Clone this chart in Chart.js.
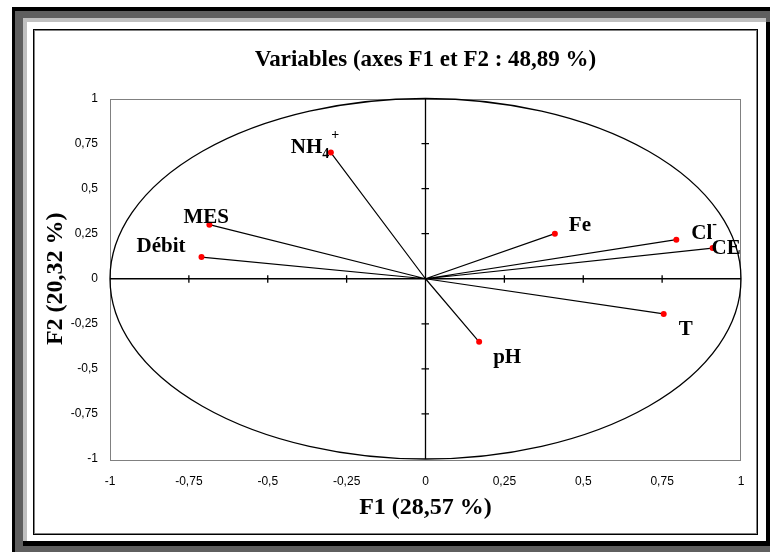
<!DOCTYPE html>
<html><head><meta charset="utf-8">
<script src="https://cdn.jsdelivr.net/npm/chart.js@4.4.1/dist/chart.umd.min.js"></script>
<style>html,body{margin:0;padding:0;background:#fff;}canvas{display:block;}</style>
</head><body>
<canvas id="c" width="770" height="552"></canvas>
<script>
// ---- data ----
const variables = ['NH4+', 'MES', 'Débit', 'Fe', 'Cl-', 'CE', 'T', 'pH'];
const f1 = [-0.30, -0.685, -0.71, 0.41, 0.795, 0.91, 0.755, 0.17];
const f2 = [0.70, 0.30, 0.12, 0.25, 0.217, 0.17, -0.195, -0.35];
const axisTicks = [-1, -0.75, -0.5, -0.25, 0, 0.25, 0.5, 0.75, 1];
const labelMain = ['NH', 'MES', 'Débit', 'Fe', 'Cl', 'CE', 'T', 'pH'];
const labelSub = ['4', '', '', '', '', '', '', ''];
const labelSup = ['+', '', '', '', '-', '', '', ''];
const chartTitle = 'Variables (axes F1 et F2 : 48,89 %)';
const xTitle = 'F1 (28,57 %)';
const yTitle = 'F2 (20,32 %)';

// ---- styling (label offsets in px from point to text baseline-left) ----
const labelOffsets = [[-40, 0], [-26, -2], [-65, -5], [14, -3], [15, -1], [-1, 6], [15, 21], [14, 21]];
const SERIF = "'Liberation Serif', 'Times New Roman', serif";
const SANS = "'Liberation Sans', Arial, sans-serif";
const fmt = v => String(v).replace('.', ',');

const framePlugin = {
  id: 'frame',
  beforeDraw(chart) {
    const ctx = chart.ctx;
    ctx.save();
    ctx.fillStyle = '#fff'; ctx.fillRect(0, 0, 770, 552);
    ctx.fillStyle = '#000'; ctx.fillRect(12, 7, 758, 545);
    ctx.fillStyle = '#5f5f5f'; ctx.fillRect(15, 11, 755, 541);
    ctx.fillStyle = '#c0c0c0'; ctx.fillRect(23, 18, 743, 523);
    ctx.fillStyle = '#000'; ctx.fillRect(27, 22, 743, 524); ctx.fillRect(23, 541, 4, 5);
    ctx.fillStyle = '#fff'; ctx.fillRect(27, 22, 739, 519);
    ctx.lineWidth = 1;
    ctx.strokeStyle = '#000'; ctx.strokeRect(33.5, 29.5, 724, 505);
    ctx.strokeStyle = '#808080'; ctx.strokeRect(34.5, 30.5, 722, 503);
    ctx.restore();
  }
};

const biplotPlugin = {
  id: 'biplot',
  beforeDatasetsDraw(chart) {
    const {ctx, chartArea: a, scales: {x, y}} = chart;
    const x0 = x.getPixelForValue(0), y0 = y.getPixelForValue(0);
    ctx.save();
    // plot border
    ctx.strokeStyle = '#808080'; ctx.lineWidth = 1;
    ctx.strokeRect(Math.round(a.left) + 0.5, Math.round(a.top) + 0.5, Math.round(a.right - a.left) - 1, Math.round(a.bottom - a.top));
    // correlation circle
    ctx.strokeStyle = '#000'; ctx.lineWidth = 1.3;
    ctx.beginPath();
    ctx.ellipse(x0, y0, x.getPixelForValue(1) - x0, y0 - y.getPixelForValue(1), 0, 0, Math.PI * 2);
    ctx.stroke();
    // zero axes
    ctx.lineWidth = 1.3;
    ctx.beginPath();
    ctx.moveTo(a.left, y0); ctx.lineTo(a.right, y0);
    ctx.moveTo(x0, a.top); ctx.lineTo(x0, a.bottom);
    axisTicks.forEach(v => {
      if (v === 0 || Math.abs(v) === 1) return;
      const px = x.getPixelForValue(v), py = y.getPixelForValue(v);
      ctx.moveTo(px, y0 - 3.5); ctx.lineTo(px, y0 + 4);
      ctx.moveTo(x0 - 4, py); ctx.lineTo(x0 + 3.5, py);
    });
    ctx.stroke();
    // vectors
    ctx.lineWidth = 1.2;
    ctx.beginPath();
    f1.forEach((v, i) => {
      ctx.moveTo(x0, y0);
      ctx.lineTo(x.getPixelForValue(v), y.getPixelForValue(f2[i]));
    });
    ctx.stroke();
    ctx.restore();
  },
  afterDatasetsDraw(chart) {
    const {ctx, scales: {x, y}} = chart;
    ctx.save();
    ctx.fillStyle = '#000';
    ctx.textBaseline = 'alphabetic';
    ctx.textAlign = 'left';
    f1.forEach((v, i) => {
      const px = x.getPixelForValue(v) + labelOffsets[i][0];
      const py = y.getPixelForValue(f2[i]) + labelOffsets[i][1];
      ctx.font = 'bold 21px ' + SERIF;
      ctx.fillText(labelMain[i], px, py);
      let cx = px + ctx.measureText(labelMain[i]).width;
      ctx.font = 'bold 14px ' + SERIF;
      if (labelSub[i]) {
        ctx.fillText(labelSub[i], cx, py + 5);
        cx += ctx.measureText(labelSub[i]).width + 2;
      }
      if (labelSup[i]) {
        ctx.fillText(labelSup[i], cx, py - (labelSub[i] ? 14 : 11));
      }
    });
    ctx.restore();
  }
};

new Chart(document.getElementById('c'), {
  type: 'scatter',
  data: {
    labels: variables,
    datasets: [{
      label: 'Variables',
      data: f1.map((v, i) => ({x: v, y: f2[i]})),
      pointRadius: 3,
      pointHoverRadius: 3,
      pointBackgroundColor: '#ff0000',
      pointBorderWidth: 0,
      showLine: false
    }]
  },
  plugins: [framePlugin, biplotPlugin],
  options: {
    responsive: false,
    devicePixelRatio: 1,
    animation: false,
    events: [],
    layout: {padding: {left: 30, right: 29, top: 20, bottom: 23}},
    plugins: {
      legend: {display: false},
      tooltip: {enabled: false},
      title: {
        display: true, text: chartTitle, fullSize: false, color: '#000',
        font: {family: SERIF, size: 23, weight: 'bold'},
        padding: {top: 26.2, bottom: 24.7}
      }
    },
    scales: {
      x: {
        type: 'linear', min: -1, max: 1,
        afterBuildTicks: s => { s.ticks = axisTicks.map(v => ({value: v})); },
        afterFit: s => { s.height = 70; },
        grid: {display: false, drawTicks: false},
        border: {display: false},
        ticks: {color: '#000', padding: 15, font: {family: SANS, size: 12}, callback: v => fmt(v), maxRotation: 0},
        title: {display: true, text: xTitle, color: '#000', font: {family: SERIF, size: 24, weight: 'bold'}, padding: {top: 0, bottom: 6.6}}
      },
      y: {
        type: 'linear', min: -1, max: 1,
        afterBuildTicks: s => { s.ticks = axisTicks.map(v => ({value: v})); },
        afterFit: s => { s.width = 80; },
        grid: {display: false, drawTicks: false},
        border: {display: false},
        ticks: {color: '#000', padding: 12, font: {family: SANS, size: 12}, callback: v => fmt(v)},
        title: {display: true, text: yTitle, color: '#000', font: {family: SERIF, size: 24, weight: 'bold'}, padding: {top: 11.6, bottom: 0}}
      }
    }
  }
});
</script>
</body></html>
